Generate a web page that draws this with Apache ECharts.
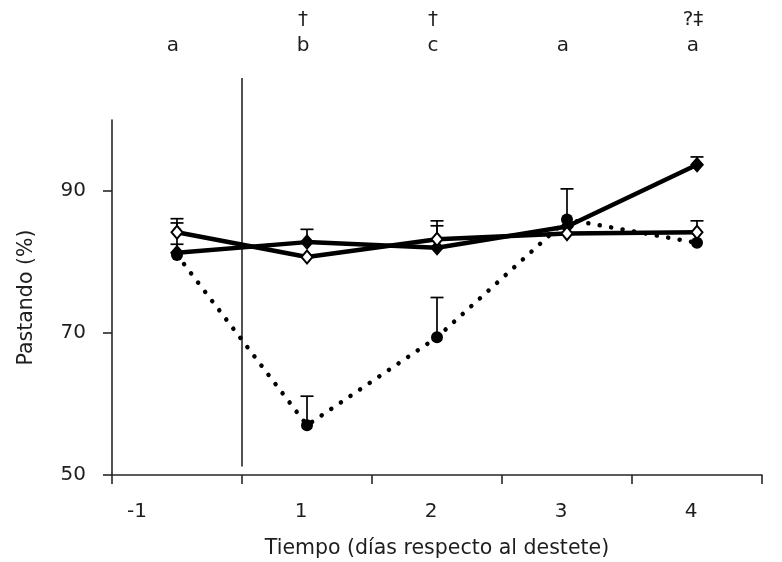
<!DOCTYPE html>
<html>
<head>
<meta charset="utf-8">
<script src="https://cdn.jsdelivr.net/npm/echarts@6/dist/echarts.min.js"></script>
<style>
  html, body { margin: 0; padding: 0; background: #fff; }
  #chart { width: 782px; height: 562px; }
</style>
</head>
<body>
<div id="chart"></div>
<script>
// data
const categories = ['-1', '1', '2', '3', '4']
const filledDiamond = [81.3, 82.8, 82.0, 85.0, 93.7]
const openDiamond = [84.2, 80.7, 83.2, 84.0, 84.2]
const filledCircle = [81.0, 57.0, 69.4, 86.0, 82.7]
// upper end of the error bars (null = none visible)
const filledDiamondUpper = [82.5, 84.6, 85.1, null, 94.8]
const openDiamondUpper = [86.1, null, 85.8, null, 85.8]
const filledCircleUpper = [85.5, 61.1, 75.0, 90.3, null]
// letters and symbols above the plot
const topLetters = ['a', 'b', 'c', 'a', 'a']
const topSymbols = ['', '†', '†', '', '?‡']
const yTicks = [50, 70, 90]
// weaning line between day -1 and day 1 (value range)
const weaningRange = [51.2, 105.9]

const font = 'DejaVu Sans'
const textColor = '#1e1e1e'

function errorData (vals, ups) {
  const out = []
  vals.forEach(function (v, i) {
    if (ups[i] != null) out.push([i, v, ups[i]])
  })
  return out
}

function renderError (params, api) {
  const base = api.coord([api.value(0), api.value(1)])
  const top = api.coord([api.value(0), api.value(2)])
  const half = 6.5
  const style = { stroke: '#000', lineWidth: 1.7 }
  return {
    type: 'group',
    children: [
      { type: 'line', shape: { x1: base[0], y1: base[1], x2: top[0], y2: top[1] }, style: style },
      { type: 'line', shape: { x1: top[0] - half, y1: top[1], x2: top[0] + half, y2: top[1] }, style: style }
    ]
  }
}

function errorSeries (vals, ups) {
  return {
    type: 'custom',
    z: 1,
    silent: true,
    renderItem: renderError,
    data: errorData(vals, ups)
  }
}

const chart = echarts.init(document.getElementById('chart'))
chart.setOption({
  backgroundColor: '#fff',
  animation: false,
  grid: { left: 112, right: 20, top: 120, bottom: 87, outerBoundsMode: 'none' },
  xAxis: [{
    type: 'category',
    data: categories,
    boundaryGap: true,
    axisLine: { lineStyle: { color: '#262626', width: 1.6 } },
    axisTick: { show: true, length: 9, lineStyle: { color: '#262626', width: 1.6 } },
    axisLabel: {
      margin: 27,
      fontFamily: font,
      fontSize: 20,
      color: textColor,
      formatter: function (v, i) { return i === 0 ? '{first|' + v + '}' : '{rest|' + v + '}' },
      rich: {
        first: { fontFamily: font, fontSize: 20, color: textColor, padding: [0, 80, 0, 0] },
        rest: { fontFamily: font, fontSize: 20, color: textColor, padding: [0, 12, 0, 0] }
      }
    },
    name: 'Tiempo (días respecto al destete)',
    nameLocation: 'middle',
    nameGap: 63,
    nameTextStyle: { fontFamily: font, fontSize: 20.5, color: textColor }
  }, {
    type: 'category',
    position: 'top',
    data: categories,
    boundaryGap: true,
    axisLine: { show: false },
    axisTick: { show: false },
    axisLabel: {
      margin: 61,
      fontFamily: font,
      fontSize: 20,
      lineHeight: 26,
      color: textColor,
      padding: [0, 8, 0, 0],
      formatter: function (v, i) {
        return topSymbols[i] ? topSymbols[i] + '\n' + topLetters[i] : topLetters[i]
      }
    }
  }],
  yAxis: {
    type: 'value',
    min: 50,
    max: 100,
    interval: 20,
    splitLine: { show: false },
    axisLine: { show: true, lineStyle: { color: '#262626', width: 1.6 } },
    axisTick: { show: true, length: 9, customValues: yTicks, lineStyle: { color: '#262626', width: 1.6 } },
    axisLabel: { margin: 26, customValues: yTicks, fontFamily: font, fontSize: 20, color: textColor },
    name: 'Pastando (%)',
    nameLocation: 'middle',
    nameGap: 75,
    nameTextStyle: { fontFamily: font, fontSize: 20.5, color: textColor }
  },
  series: [
    {
      type: 'custom',
      z: 1,
      silent: true,
      renderItem: function (params, api) {
        const a = api.coord([0, api.value(0)])
        const b = api.coord([1, api.value(1)])
        const x = (a[0] + b[0]) / 2
        return { type: 'line', shape: { x1: x, y1: a[1], x2: x, y2: b[1] }, style: { stroke: '#262626', lineWidth: 1.6 } }
      },
      data: [weaningRange]
    },
    errorSeries(filledCircle, filledCircleUpper),
    errorSeries(filledDiamond, filledDiamondUpper),
    errorSeries(openDiamond, openDiamondUpper),
    {
      type: 'line',
      z: 3,
      data: filledCircle,
      symbol: 'circle',
      symbolSize: 12,
      itemStyle: { color: '#000' },
      lineStyle: { color: '#000', width: 4.5, type: [0.1, 11.5], cap: 'round' }
    },
    {
      type: 'line',
      z: 4,
      data: filledDiamond,
      symbol: 'diamond',
      symbolSize: [14, 16],
      itemStyle: { color: '#000' },
      lineStyle: { color: '#000', width: 4.5 }
    },
    {
      type: 'line',
      z: 5,
      data: openDiamond,
      symbol: 'diamond',
      symbolSize: [11, 13],
      itemStyle: { color: '#fff', borderColor: '#000', borderWidth: 2 },
      lineStyle: { color: '#000', width: 4.5 }
    }
  ]
})
</script>
</body>
</html>
